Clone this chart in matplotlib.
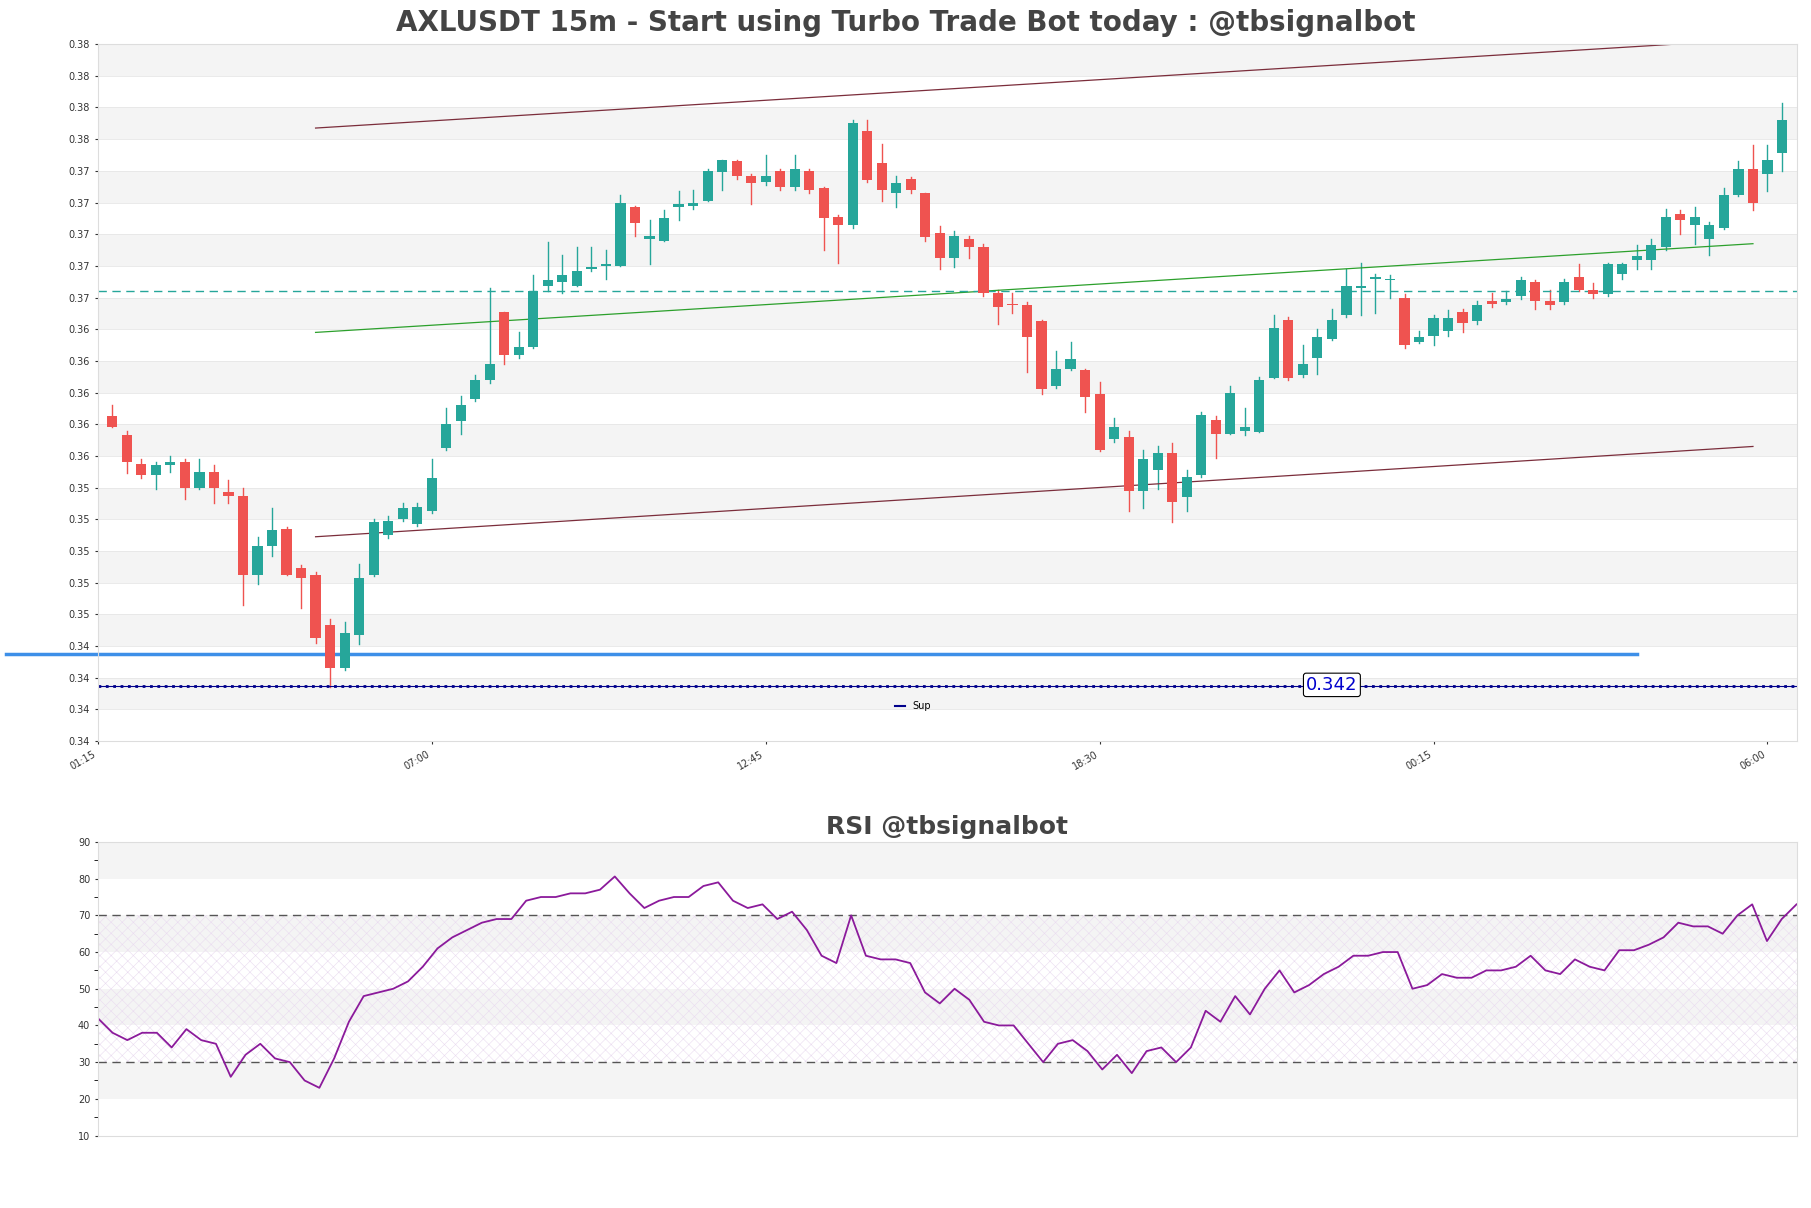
import matplotlib
matplotlib.use("Agg")
import matplotlib.pyplot as plt
from matplotlib.lines import Line2D
import numpy as np

opens = [.3585,.3573,.3555,.3548,.3554,.3556,.3540,.3550,.3537,.3535,.3485,.3503,.3514,.3489,.3485,.3453,.3426,.3447,.3485,.3510,
         .3520,.3517,.3525,.3565,.3582,.3596,.3608,.3651,.3624,.3629,.3667,.3670,.3667,.3678,.3680,.3680,.3717,.3697,.3696,.3717,
         .3718,.3721,.3739,.3746,.3737,.3733,.3740,.3730,.3740,.3729,.3711,.3706,.3765,.3745,.3726,.3735,.3726,.3701,.3685,.3697,
         .3692,.3663,.3656,.3655,.3645,.3604,.3615,.3614,.3599,.3571,.3572,.3538,.3551,.3562,.3534,.3548,.3583,.3574,.3576,.3575,
         .3609,.3646,.3611,.3622,.3634,.3649,.3666,.3672,.3671,.3660,.3632,.3636,.3639,.3651,.3645,.3658,.3657,.3661,.3670,.3658,
         .3657,.3673,.3665,.3662,.3675,.3684,.3684,.3692,.3713,.3706,.3697,.3704,.3725,.3741,.3738,.3751]
closes = [.3578,.3556,.3548,.3554,.3556,.3540,.3550,.3540,.3535,.3485,.3503,.3513,.3485,.3483,.3445,.3426,.3448,.3483,.3518,.3519,
          .3527,.3528,.3546,.3580,.3592,.3608,.3618,.3624,.3629,.3664,.3671,.3674,.3677,.3679,.3681,.3720,.3707,.3699,.3710,.3719,
          .3720,.3740,.3747,.3737,.3732,.3737,.3730,.3741,.3728,.3710,.3706,.3770,.3734,.3728,.3732,.3728,.3698,.3685,.3699,.3692,
          .3663,.3654,.3655,.3635,.3602,.3615,.3621,.3597,.3564,.3578,.3538,.3558,.3562,.3531,.3547,.3586,.3574,.3600,.3578,.3608,
          .3641,.3609,.3618,.3635,.3646,.3667,.3667,.3673,.3672,.3630,.3635,.3647,.3647,.3644,.3655,.3656,.3659,.3671,.3658,.3655,
          .3670,.3665,.3662,.3681,.3681,.3686,.3693,.3711,.3709,.3711,.3706,.3725,.3741,.3720,.3747,.3772]
highs = [.3592,.3576,.3558,.3556,.3560,.3558,.3558,.3554,.3545,.3540,.3509,.3527,.3515,.3491,.3487,.3457,.3455,.3492,.3520,.3522,
         .3530,.3530,.3558,.3590,.3598,.3611,.3666,.3651,.3638,.3674,.3695,.3687,.3692,.3692,.3690,.3725,.3718,.3709,.3715,.3727,
         .3728,.3741,.3747,.3747,.3738,.3750,.3741,.3750,.3741,.3730,.3712,.3772,.3772,.3757,.3737,.3736,.3726,.3705,.3702,.3699,
         .3694,.3665,.3663,.3657,.3646,.3626,.3632,.3615,.3607,.3584,.3576,.3564,.3566,.3568,.3551,.3588,.3585,.3604,.3590,.3610,
         .3649,.3648,.3630,.3640,.3653,.3678,.3682,.3675,.3674,.3662,.3639,.3649,.3652,.3653,.3658,.3663,.3664,.3673,.3671,.3665,
         .3672,.3681,.3669,.3682,.3682,.3693,.3697,.3716,.3715,.3717,.3708,.3729,.3746,.3756,.3756,.3783]
lows = [.3578,.3549,.3546,.3539,.3550,.3533,.3539,.3530,.3530,.3466,.3479,.3497,.3485,.3464,.3442,.3414,.3425,.3441,.3484,.3508,
        .3519,.3516,.3524,.3564,.3574,.3595,.3606,.3618,.3622,.3628,.3664,.3663,.3667,.3677,.3672,.3680,.3699,.3681,.3696,.3709,
        .3716,.3721,.3728,.3735,.3719,.3731,.3728,.3728,.3726,.3690,.3682,.3704,.3733,.3721,.3717,.3726,.3696,.3678,.3679,.3685,
        .3661,.3643,.3650,.3613,.3599,.3603,.3614,.3588,.3563,.3569,.3525,.3527,.3539,.3518,.3525,.3547,.3559,.3574,.3573,.3575,
        .3609,.3608,.3610,.3612,.3633,.3648,.3649,.3650,.3660,.3628,.3631,.3630,.3636,.3638,.3643,.3654,.3656,.3659,.3653,.3653,
        .3656,.3664,.3660,.3661,.3672,.3678,.3678,.3690,.3700,.3694,.3687,.3703,.3724,.3715,.3727,.3740]

rsi = [42,38,36,38,38,34,39,36,35,26,32,35,31,30,25,23,31,41,48,49,50,52,56,61,64,66,68,69,69,74,75,75,76,76,77,80.6,76,72,74,75,
       75,78,79,74,72,73,69,71,66,59,57,70,59,58,58,57,49,46,50,47,41,40,40,35,30,35,36,33,28,32,27,33,34,30,34,44,41,48,43,50,
       55,49,51,54,56,59,59,60,60,50,51,54,53,53,55,55,56,59,55,54,58,56,55,60.5,60.5,62,64,68,67,67,65,70,73,63,69,73]

tick_labels = ["01:15", "07:00", "12:45", "18:30", "00:15", "06:00"]
sup_level = 0.3415
sup_label = "0.342"
blue_level = 0.3435
dash_level = 0.3664
green_trend = ([15, 114], [0.3638, 0.3694])
upper_trend = ([15, 114], [0.3767, 0.3823])
lower_trend = ([15, 114], [0.3509, 0.3566])

GREEN = "#26a69a"; RED = "#ef5350"
fig = plt.figure(figsize=(18.11, 12.08), dpi=100)
ax = fig.add_axes([0.054, 0.3865, 0.938, 0.577])
ymin, ymax, step = 0.338, 0.382, 0.002
yt = np.arange(ymin, ymax + step / 2, step)
for k in range(len(yt) - 1):
    if k % 2 == 1:
        ax.axhspan(yt[k], yt[k + 1], color="#f4f4f4", zorder=0, lw=0)
    ax.axhline(yt[k], color="#e6e6e6", lw=0.6, zorder=0)
x = np.arange(1, len(opens) + 1)
for i in range(len(opens)):
    c = GREEN if closes[i] >= opens[i] else RED
    ax.plot([x[i], x[i]], [lows[i], highs[i]], color=c, lw=1, zorder=2)
    lo, hi = min(opens[i], closes[i]), max(opens[i], closes[i])
    ax.bar(x[i], max(hi - lo, 0.00004), bottom=lo, width=0.7, color=c, zorder=3)
ax.plot(*upper_trend, color="#7b2d3b", lw=0.9)
ax.plot(*lower_trend, color="#7b2d3b", lw=0.9)
ax.plot(*green_trend, color="#2ca02c", lw=0.9)
ax.axhline(dash_level, color=GREEN, ls=(0, (6, 4)), lw=1)
ax.plot([-6.3, 106], [blue_level, blue_level], color="#3d8fe8", lw=2.5, clip_on=False)
ax.axhline(sup_level, color="#00008b", lw=2, ls=":")
ax.axhline(sup_level, color="#00008b", lw=0.8)
ax.text(85, sup_level + 0.00005, sup_label, color="#0000cc", fontsize=13, ha="center", va="center",
        bbox=dict(boxstyle="round,pad=0.15", fc="white", ec="black", lw=0.8))
ax.legend([Line2D([], [], color="#00008b", lw=1.5)], ["Sup"], loc="lower center", bbox_to_anchor=(0.48, 0.03),
          fontsize=7, frameon=False, handlelength=1)
ax.set_xlim(0, 117)
ax.set_ylim(ymin, ymax)
ax.set_yticks(yt)
ax.set_yticklabels([f"{v:.2f}" for v in yt], fontsize=7)
ax.set_xticks([0, 23, 46, 69, 92, 115])
ax.set_xticklabels(tick_labels, rotation=30, ha="right", fontsize=7)
for s in ax.spines.values():
    s.set_color("#dddddd")
ax.tick_params(length=2, colors="#333333")
fig.text(0.5, 0.981, "AXLUSDT 15m - Start using Turbo Trade Bot today : @tbsignalbot", ha="center", va="center",
         fontsize=20, fontweight="bold", color="#444444")

ax2 = fig.add_axes([0.054, 0.06, 0.938, 0.243])
for lo in range(10, 90, 10):
    if (lo // 10) % 2 == 0:
        ax2.axhspan(lo, lo + 10, color="#f4f4f4", zorder=0, lw=0)
plt.rcParams["hatch.linewidth"] = 0.4
ax2.axhspan(30, 70, facecolor="none", edgecolor="#eadcf0", hatch="xxx", lw=0, zorder=0)
ax2.axhline(70, color="#555555", ls=(0, (6, 4)), lw=1)
ax2.axhline(30, color="#555555", ls=(0, (6, 4)), lw=1)
ax2.plot(np.arange(len(rsi)), rsi, color="#8b1a9b", lw=1.3)
ax2.set_xlim(0, len(rsi) - 1)
ax2.set_ylim(10, 90)
ax2.set_yticks(range(10, 91, 10))
ax2.set_yticks(range(15, 90, 10), minor=True)
ax2.tick_params(labelsize=7, length=2, colors="#333333")
ax2.tick_params(which="minor", length=3)
ax2.set_xticks([])
for s in ax2.spines.values():
    s.set_color("#dddddd")
ax2.set_title("RSI @tbsignalbot", fontsize=18, fontweight="bold", color="#444444", pad=6)
fig.savefig("out.png", dpi=100)
